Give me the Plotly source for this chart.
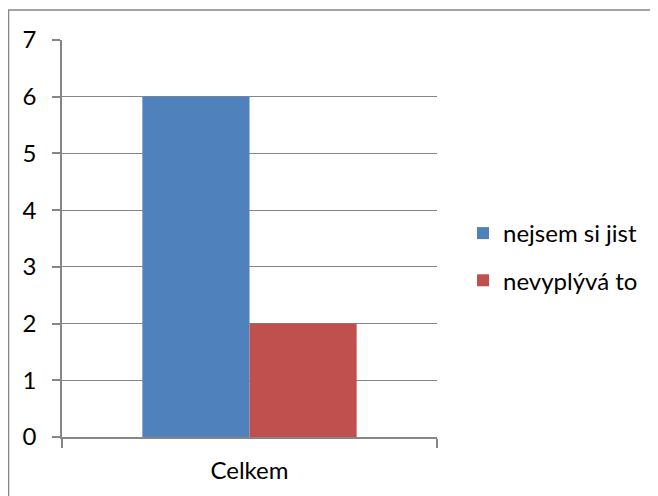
import plotly.graph_objects as go

categories = ["Celkem"]
series_names = ["nejsem si jist", "nevyplývá to"]
series_values = [[6], [2]]
colors = ["#4F81BD", "#C0504D"]
y_ticks = [0, 1, 2, 3, 4, 5, 6, 7]

fig = go.Figure()
for i, (name, vals, col) in enumerate(zip(series_names, series_values, colors)):
    fig.add_trace(go.Bar(x=categories, y=vals, name=name, legendgroup=f"g{i}",
                         marker=dict(color=col, line=dict(width=0))))

OFF = 8  # page body margin
W, H = 658 - OFF, 496 - OFF
# plot area in page pixels: x 62..437, y 40..437
l, r, t, b = 62 - OFF, 658 - 437, 40 - OFF, 496 - 437
pw, ph = W - l - r, H - t - b

def px(x):
    return (x - OFF - l) / pw

def py(y):
    return (H - b - (y - OFF)) / ph

FS = 24

fig.update_layout(
    width=W, height=H,
    margin=dict(l=l, r=r, t=t, b=b, pad=0),
    paper_bgcolor="white", plot_bgcolor="white",
    barmode="group", bargap=1.5 / 3.5, bargroupgap=0,
    font=dict(family="Lato, Carlito, Calibri, sans-serif", size=FS, color="#000000"),
    showlegend=True,
    legend=dict(x=px(463), y=py(211), xanchor="left", yanchor="top",
                font=dict(size=FS), itemwidth=30, tracegroupgap=13, traceorder="grouped",
                bgcolor="rgba(0,0,0,0)"),
    xaxis=dict(showline=True, linecolor="#868686", linewidth=1.5,
               ticks="outside", ticklen=9, tickcolor="#868686", tickwidth=1.5,
               tickson="boundaries", showgrid=False, ticklabelstandoff=11,
               tickfont=dict(size=FS)),
    yaxis=dict(range=[0, 7], tickvals=y_ticks, showline=True, linecolor="#868686", linewidth=1.5,
               ticks="outside", ticklen=8, tickcolor="#868686", tickwidth=1.5,
               showgrid=True, gridcolor="#868686", gridwidth=1.2, zeroline=False,
               ticklabelstandoff=11, tickfont=dict(size=FS)),
    shapes=[dict(type="rect", xref="paper", yref="paper",
                 x0=px(8.5), x1=px(657), y0=py(510), y1=py(10),
                 line=dict(color="#868686", width=1.5), layer="below")],
)

fig.write_html("out.html")
